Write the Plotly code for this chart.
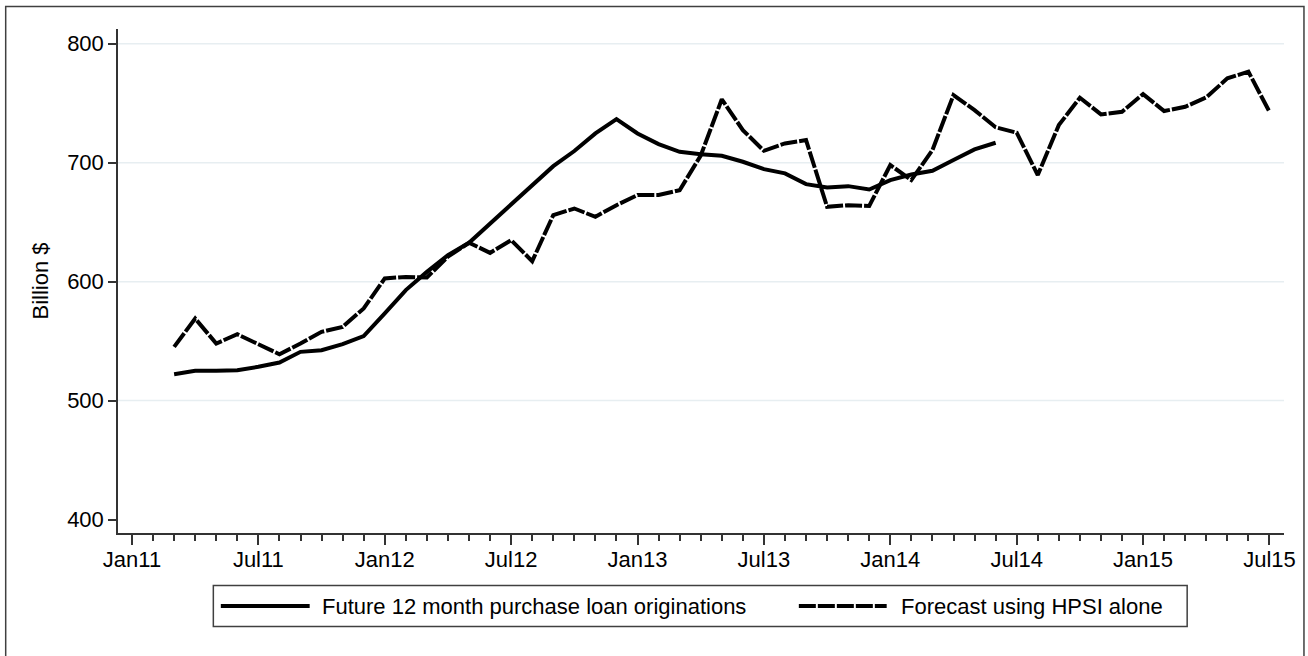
import pandas as pd
import plotly.graph_objects as go

# ---------------- data ----------------
start_month = "2011-03"
actual_name = "Future 12 month purchase loan originations"
forecast_name = "Forecast using HPSI alone"

actual_values = [522.2, 525.0, 525.0, 525.6, 528.4, 532.0, 541.0, 542.4, 547.4, 554.2,
                 573.3, 592.9, 608.2, 622.3, 632.7, 648.9, 665.2, 681.4, 697.1, 709.8,
                 724.6, 736.7, 724.6, 715.6, 709.2, 707.2, 705.8, 700.8, 694.6, 691.0,
                 682.0, 679.2, 680.3, 677.5, 685.4, 690.1, 693.2, 702.2, 711.2, 716.8]

forecast_values = [545.2, 569.0, 548.0, 555.8, 547.4, 539.0, 548.0, 557.8, 562.0, 577.5,
                   602.7, 604.0, 603.5, 621.0, 632.7, 624.2, 634.9, 617.2, 655.9, 661.5,
                   654.5, 664.3, 672.8, 672.8, 676.9, 706.0, 753.3, 727.4, 710.0, 716.2,
                   719.0, 662.9, 664.3, 663.7, 698.0, 685.4, 710.6, 756.9, 744.2, 729.8,
                   725.2, 689.6, 731.6, 754.6, 740.6, 742.8, 757.7, 743.4, 747.0, 754.9,
                   770.9, 776.5, 742.8]

tick_labels = ["Jan11", "Jul11", "Jan12", "Jul12", "Jan13", "Jul13",
               "Jan14", "Jul14", "Jan15", "Jul15"]
y_ticks = [400, 500, 600, 700, 800]
grid_values = [500, 600, 700, 800]
y_title = "Billion $"

# ---------------- helpers ----------------
def month_index(periods):
    return [(p.year - 2011) * 12 + (p.month - 1) for p in periods]

x_actual = month_index(pd.period_range(start_month, periods=len(actual_values), freq="M"))
x_forecast = month_index(pd.period_range(start_month, periods=len(forecast_values), freq="M"))
tick_pos = [6 * k for k in range(len(tick_labels))]

W, H = 1308, 656
ML, MR, MT, MB = 118, 22, 29, 123
PW, PH = W - ML - MR, H - MT - MB

def px(x):
    return (x - ML) / PW

def py(y):
    return (H - MB - y) / PH

FONT = "Liberation Sans, Arial, sans-serif"
DASH = "17px,2px"

fig = go.Figure()
fig.add_trace(go.Scatter(x=x_actual, y=actual_values, mode="lines", name=actual_name,
                         line=dict(color="black", width=4), showlegend=False))
fig.add_trace(go.Scatter(x=x_forecast, y=forecast_values, mode="lines", name=forecast_name,
                         line=dict(color="black", width=4, dash=DASH), showlegend=False))

shapes = []
# grid lines
for g in grid_values:
    shapes.append(dict(type="line", xref="paper", yref="y", x0=0, x1=1, y0=g, y1=g,
                       line=dict(color="#e7eef1", width=1.5), layer="below"))
# outer frame
shapes.append(dict(type="rect", xref="paper", yref="paper",
                   x0=px(5.5), x1=px(1306), y0=py(6.5), y1=py(700),
                   line=dict(color="#404040", width=1.5), layer="below"))
# legend box
shapes.append(dict(type="rect", xref="paper", yref="paper",
                   x0=px(213.5), x1=px(1189), y0=py(585.5), y1=py(626.5),
                   line=dict(color="#404040", width=1.5)))
# legend samples
shapes.append(dict(type="line", xref="paper", yref="paper",
                   x0=px(221), x1=px(310), y0=py(606), y1=py(606),
                   line=dict(color="black", width=4)))
shapes.append(dict(type="line", xref="paper", yref="paper",
                   x0=px(800), x1=px(888), y0=py(606), y1=py(606),
                   line=dict(color="black", width=4, dash=DASH)))

annotations = [
    dict(text=actual_name, xref="paper", yref="paper", x=px(320), y=py(606.5),
         xanchor="left", yanchor="middle", showarrow=False,
         font=dict(family=FONT, size=22, color="black")),
    dict(text=forecast_name, xref="paper", yref="paper", x=px(900), y=py(606.5),
         xanchor="left", yanchor="middle", showarrow=False,
         font=dict(family=FONT, size=22, color="black")),
]

fig.update_layout(
    width=W, height=H,
    margin=dict(l=ML, r=MR, t=MT, b=MB),
    paper_bgcolor="white", plot_bgcolor="white",
    font=dict(family=FONT, size=22, color="black"),
    shapes=shapes, annotations=annotations,
    showlegend=False,
)
fig.update_xaxes(
    range=[-0.664, 54.69], tickmode="array", tickvals=tick_pos, ticktext=tick_labels,
    showgrid=False, zeroline=False, showline=True, linecolor="#333333", linewidth=1.5,
    ticks="outside", ticklen=10, tickwidth=1.5, tickcolor="#333333",
    minor=dict(dtick=1, tick0=0, ticks="outside", ticklen=6, tickwidth=1.5,
               tickcolor="#333333", showgrid=False),
    tickfont=dict(family=FONT, size=22, color="black"),
    ticklabelstandoff=-4,
)
fig.update_yaxes(
    range=[388.7, 812.4], tickmode="array", tickvals=y_ticks,
    showgrid=False, zeroline=False, showline=True, linecolor="#333333", linewidth=1.5,
    ticks="outside", ticklen=8, tickwidth=1.5, tickcolor="#333333",
    tickfont=dict(family=FONT, size=22, color="black"),
    title=dict(text=y_title, standoff=12, font=dict(family=FONT, size=22, color="black")),
)

fig.write_html("out.html",
               config={"displayModeBar": False},
               post_script="document.body.style.margin='0px';document.body.style.overflow='hidden';")
